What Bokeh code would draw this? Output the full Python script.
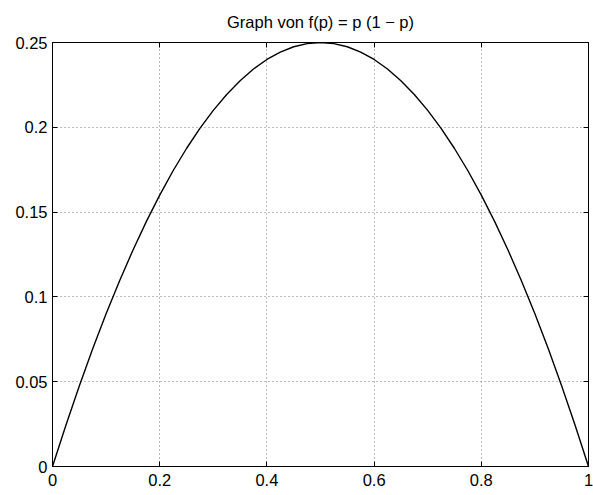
from bokeh.plotting import figure
from bokeh.models import Range1d, FixedTicker, LinearAxis, CustomLabelingPolicy
from bokeh.embed import file_html
from bokeh.resources import INLINE

# Data (f(p) = p (1 - p))
p_values = [0.0, 0.025, 0.05, 0.075, 0.1, 0.125, 0.15, 0.175, 0.2, 0.225,
            0.25, 0.275, 0.3, 0.325, 0.35, 0.375, 0.4, 0.425, 0.45, 0.475,
            0.5, 0.525, 0.55, 0.575, 0.6, 0.625, 0.65, 0.675, 0.7, 0.725,
            0.75, 0.775, 0.8, 0.825, 0.85, 0.875, 0.9, 0.925, 0.95, 0.975, 1.0]
f_values = [0.0, 0.024375, 0.0475, 0.069375, 0.09, 0.109375, 0.1275, 0.144375, 0.16, 0.174375,
            0.1875, 0.199375, 0.21, 0.219375, 0.2275, 0.234375, 0.24, 0.244375, 0.2475, 0.249375,
            0.25, 0.249375, 0.2475, 0.244375, 0.24, 0.234375, 0.2275, 0.219375, 0.21, 0.199375,
            0.1875, 0.174375, 0.16, 0.144375, 0.1275, 0.109375, 0.09, 0.069375, 0.0475, 0.024375, 0.0]

x_ticks = [0, 0.2, 0.4, 0.6, 0.8, 1]
x_tick_labels = ["0", "0.2", "0.4", "0.6", "0.8", "1"]
y_ticks = [0, 0.05, 0.1, 0.15, 0.2, 0.25]
y_tick_labels = ["0", "0.05", "0.1", "0.15", "0.2", "0.25"]
title_text = "Graph von f(p) = p (1 \u2212 p)"

FONT = "Liberation Sans"
FS = "16.5px"

p = figure(width=593, height=495, output_backend="svg", toolbar_location=None,
           x_range=Range1d(0, 1), y_range=Range1d(0, 0.25),
           min_border_left=52, min_border_right=2, min_border_top=42, min_border_bottom=29,
           title=title_text)

p.background_fill_color = "white"
p.border_fill_color = "white"
p.outline_line_color = "black"
p.outline_line_width = 1

p.title.text_font = FONT
p.title.text_font_size = FS
p.title.text_font_style = "normal"
p.title.align = "center"
p.title.text_color = "black"
p.title.standoff = 16

def style_axis(ax, ticks, labels, show_labels=True):
    ax.ticker = FixedTicker(ticks=ticks)
    ax.major_label_overrides = {t: l for t, l in zip(ticks, labels)}
    ax.axis_line_color = "black"
    ax.axis_line_width = 1
    ax.major_tick_in = 5
    ax.major_tick_out = 0
    ax.major_tick_line_color = "black"
    ax.minor_tick_line_color = None
    ax.major_label_text_font = FONT
    ax.major_label_text_color = "black"
    if show_labels:
        ax.major_label_text_font_size = FS
    else:
        ax.major_label_text_font_size = "1px"
        ax.major_label_standoff = 0
        ax.major_label_policy = CustomLabelingPolicy(code="return new Set()")

style_axis(p.xaxis[0], x_ticks, x_tick_labels)
p.xaxis[0].major_label_standoff = 7
style_axis(p.yaxis[0], y_ticks, y_tick_labels)
p.yaxis[0].major_label_standoff = 5

right_axis = LinearAxis()
style_axis(right_axis, y_ticks, y_tick_labels, show_labels=False)
p.add_layout(right_axis, "right")
top_axis = LinearAxis()
style_axis(top_axis, x_ticks, x_tick_labels, show_labels=False)
p.add_layout(top_axis, "above")

p.xgrid.ticker = FixedTicker(ticks=x_ticks[1:-1])
p.ygrid.ticker = FixedTicker(ticks=y_ticks[1:-1])
for g in (p.xgrid[0], p.ygrid[0]):
    g.grid_line_color = "#555555"
    g.grid_line_width = 1
    g.grid_line_dash = "1 3"
    g.grid_line_alpha = 0.8

p.line(p_values, f_values, line_color="black", line_width=1.4)

open("out.html", "w").write(file_html(p, INLINE))
